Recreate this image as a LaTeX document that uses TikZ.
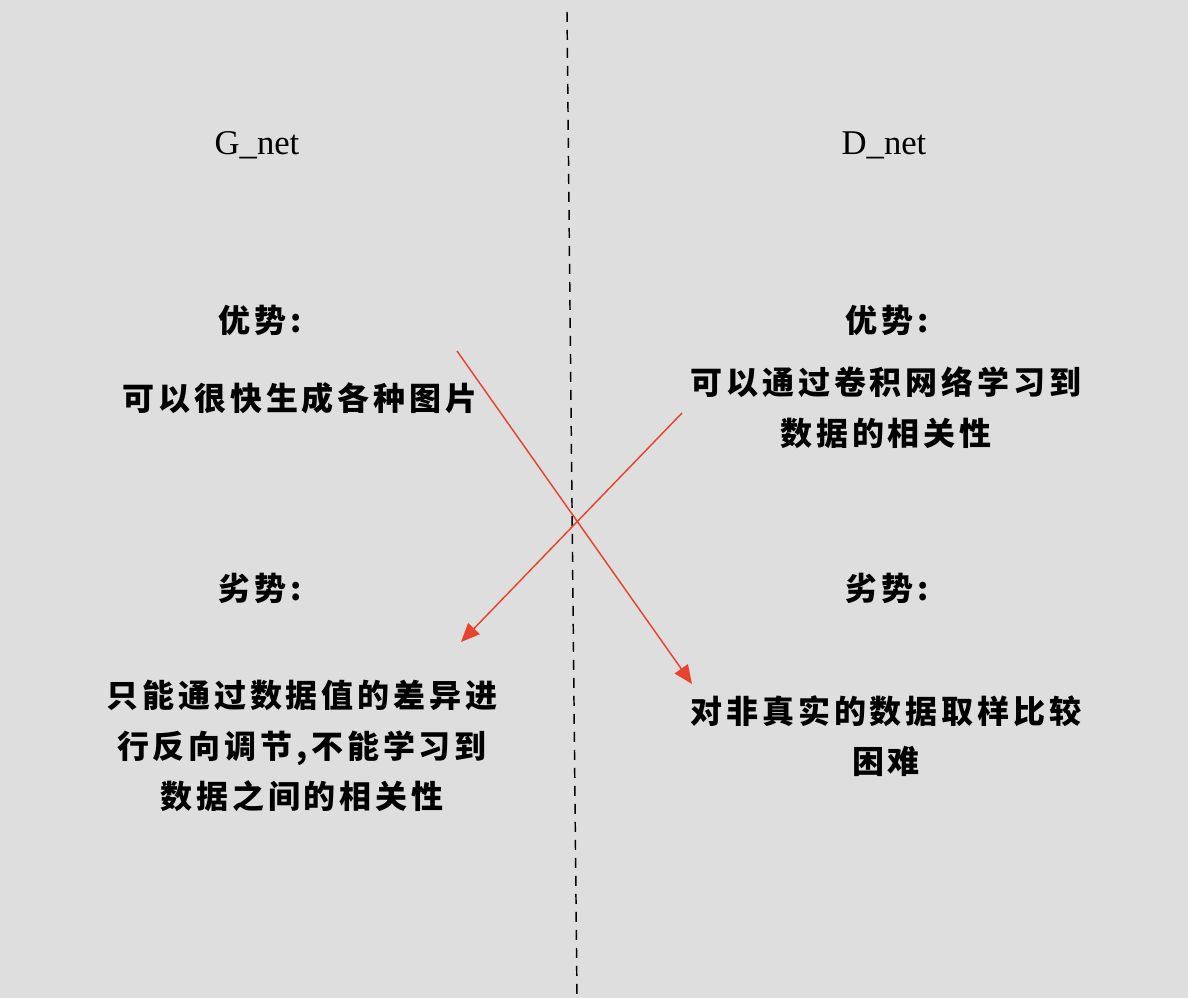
\documentclass[tikz,border=0pt]{standalone}
\usepackage{fontspec}
\setmainfont{Liberation Serif}
\newfontfamily\cjk[LetterSpace=12]{Noto Sans CJK SC}
\usetikzlibrary{arrows.meta}
\definecolor{bg}{HTML}{DEDEDE}
\definecolor{arr}{HTML}{E8432E}
\begin{document}
\begin{tikzpicture}[x=0.75pt,y=-0.75pt,
  title/.style={font=\fontsize{26pt}{30pt}\selectfont, text=black},
  zh/.style={font=\cjk\bfseries\fontsize{24pt}{38pt}\selectfont, text=black, align=center},
  redarrow/.style={draw=arr, line width=1.1pt, -{Triangle[length=14pt,width=12pt]}},
  divider/.style={draw=black, line width=1.1pt, dash pattern=on 7.5pt off 6pt}]
\fill[bg] (0,0) rectangle (1188,998);
\useasboundingbox (0,0) rectangle (1188,998);
\coordinate (dtop) at (567,12);
\coordinate (dbot) at (577,998);
\draw[divider] (dtop) -- (dbot);
\node[title] (gnet) at (257,145) {G\_net};
\node[title] (dnet) at (884,145) {D\_net};
\node[zh] (gadv) at (260,320) {优势:};
\node[zh] (dadv) at (887,320) {优势:};
\node[zh] (gadvt) at (300,398) {可以很快生成各种图片};
\node[zh] (dadvt) at (886,408) {可以通过卷积网络学习到\\数据的相关性};
\node[zh] (gdis) at (260,588) {劣势:};
\node[zh] (ddis) at (887,588) {劣势:};
\node[zh] (gdist) at (302,746) {只能通过数据值的差异进\\行反向调节,不能学习到\\数据之间的相关性};
\node[zh] (ddist) at (886,736) {对非真实的数据取样比较\\困难};
\coordinate (a1s) at (457,351);
\coordinate (a1e) at (692,684);
\coordinate (a2s) at (682,413);
\coordinate (a2e) at (461,642);
\draw[redarrow] (a1s) -- (a1e);
\draw[redarrow] (a2s) -- (a2e);
\end{tikzpicture}
\end{document}
